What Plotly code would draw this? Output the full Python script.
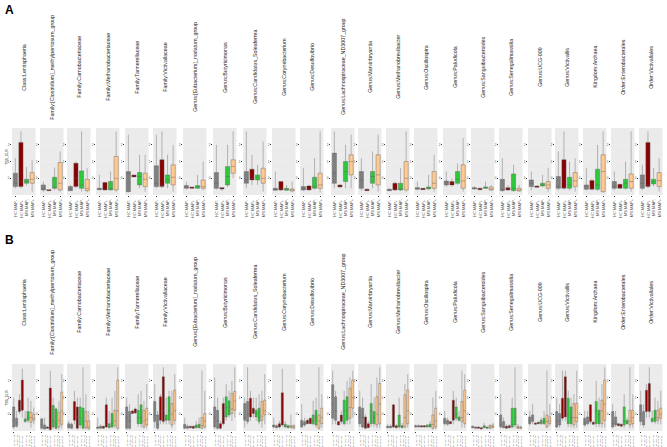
import plotly.graph_objects as go

taxa = ["Class:Lentisphaeria", "Family:[Clostridium]_methylpentosum_group", "Family:Carnobacteriaceae",
        "Family:Methanobacteriaceae", "Family:Tannerellaceae", "Family:Victivallaceae",
        "Genus:[Eubacterium]_nodatum_group", "Genus:Butyricimonas", "Genus:Candidatus_Soleaferrea",
        "Genus:Corynebacterium", "Genus:Desulfovibrio", "Genus:Lachnospiraceae_ND3007_group",
        "Genus:Marvinbryantia", "Genus:Methanobrevibacter", "Genus:Oscillospira", "Genus:Paludicola",
        "Genus:Sanguibacteroides", "Genus:Senegalimassilia", "Genus:UCG-009", "Genus:Victivallis",
        "Kingdom:Archaea", "Order:Enterobacterales", "Order:Victivallales"]

groups_A = ["HC MAP-", "HC MAP+", "MS MAP-", "MS MAP+"]
colors_A = ["#7F7F7F", "#8B0000", "#2DC83A", "#FFC98F"]
groups_B = ["HC MAP- T0", "HC MAP- T1", "HC MAP+ T0", "HC MAP+ T1",
            "MS MAP- T0", "MS MAP- T1", "MS MAP+ T0", "MS MAP+ T1"]
colors_B = ["#7F7F7F", "#7F7F7F", "#8B0000", "#8B0000", "#2DC83A", "#2DC83A", "#FFC98F", "#FFC98F"]

# ---- Panel A box statistics (one list of 4 per taxon) ----
A_q1 = [[0.125,0.125,0.175,0.175],[0.075,0.065,0.1,0.075],[0.065,0.125,0.1,0.065],[0.08,0.075,0.075,0.075],
        [0.05,0.27,0.15,0.125],[0.125,0.125,0.175,0.15],[0.1,0.1,0.1,0.1],[0.1,0.09,0.15,0.325],
        [0.175,0.225,0.225,0.175],[0.07,0.075,0.07,0.06],[0.075,0.075,0.1,0.1],[0.175,0.12,0.2,0.3],
        [0.1,0.065,0.175,0.15],[0.065,0.075,0.075,0.075],[0.085,0.08,0.09,0.1],[0.15,0.15,0.175,0.1],
        [0.09,0.08,0.1,0.075],[0.065,0.075,0.065,0.06],[0.125,0.115,0.135,0.1],[0.1,0.1,0.1,0.125],
        [0.085,0.085,0.085,0.05],[0.1,0.1,0.1,0.1],[0.1,0.125,0.165,0.125]]
A_med = [[0.175,0.2,0.2,0.235],[0.1,0.07,0.11,0.175],[0.09,0.25,0.15,0.1],[0.09,0.08,0.1,0.25],
         [0.32,0.29,0.275,0.235],[0.175,0.14,0.225,0.265],[0.12,0.11,0.12,0.125],[0.175,0.1,0.275,0.425],
         [0.225,0.25,0.265,0.25],[0.085,0.1,0.085,0.075],[0.1,0.09,0.125,0.15],[0.325,0.135,0.35,0.5],
         [0.225,0.075,0.275,0.3],[0.075,0.08,0.08,0.25],[0.1,0.09,0.1,0.175],[0.185,0.175,0.235,0.21],
         [0.1,0.09,0.11,0.09],[0.085,0.09,0.1,0.075],[0.175,0.125,0.15,0.15],[0.125,0.11,0.15,0.21],
         [0.125,0.1,0.15,0.35],[0.125,0.11,0.175,0.2],[0.175,0.15,0.2,0.215]]
A_q3 = [[0.325,0.785,0.235,0.335],[0.15,0.08,0.265,0.485],[0.125,0.475,0.36,0.235],[0.1,0.185,0.2,0.575],
        [0.35,0.3,0.335,0.325],[0.435,0.525,0.3,0.45],[0.14,0.12,0.14,0.225],[0.335,0.11,0.425,0.525],
        [0.35,0.385,0.3,0.4],[0.1,0.2,0.1,0.09],[0.125,0.135,0.265,0.325],[0.625,0.15,0.5,0.6],
        [0.35,0.085,0.35,0.6],[0.085,0.175,0.175,0.5],[0.11,0.1,0.12,0.35],[0.21,0.2,0.35,0.45],
        [0.11,0.1,0.12,0.12],[0.235,0.11,0.315,0.1],[0.225,0.135,0.175,0.2],[0.275,0.525,0.265,0.335],
        [0.15,0.215,0.385,0.6],[0.2,0.16,0.235,0.315],[0.3,0.785,0.235,0.335]]
A_hi = [[0.55,0.95,0.42,0.52],[0.2,0.08,0.41,0.65],[0.15,0.5,0.95,0.4],[0.3,0.2,0.35,0.95],
        [0.9,0.3,0.6,0.6],[0.9,0.95,0.6,0.75],[0.2,0.12,0.3,0.5],[0.75,0.12,0.75,0.95],
        [0.95,0.6,0.45,0.8],[0.35,0.2,0.15,0.2],[0.4,0.15,0.55,0.95],[0.95,0.16,0.75,0.9],
        [0.55,0.1,0.65,0.9],[0.1,0.2,0.4,0.95],[0.2,0.1,0.3,0.6],[0.35,0.25,0.47,0.85],
        [0.13,0.11,0.2,0.15],[0.55,0.15,0.45,0.15],[0.35,0.14,0.3,0.4],[0.65,0.95,0.5,0.55],
        [0.4,0.25,0.75,0.95],[0.35,0.16,0.5,0.95],[0.45,0.95,0.4,0.55]]
A_lo = [[0.1,0.1,0.14,0.05],[0.05,0.06,0.07,0.05],[0.06,0.1,0.05,0.04],[0.07,0.07,0.07,0.05],
        [0.04,0.27,0.1,0.05],[0.1,0.1,0.1,0.05],[0.08,0.09,0.09,0.07],[0.08,0.06,0.12,0.25],
        [0.1,0.15,0.15,0.05],[0.06,0.06,0.06,0.04],[0.06,0.07,0.08,0.04],[0.1,0.11,0.1,0.1],
        [0.06,0.06,0.1,0.05],[0.06,0.06,0.06,0.05],[0.07,0.08,0.08,0.05],[0.12,0.12,0.15,0.05],
        [0.08,0.07,0.09,0.06],[0.05,0.06,0.05,0.05],[0.07,0.11,0.12,0.05],[0.07,0.08,0.07,0.05],
        [0.07,0.07,0.06,0.03],[0.07,0.09,0.08,0.05],[0.07,0.1,0.13,0.05]]

# ---- Panel B box statistics (one list of 8 per taxon) ----
B_q1 = [[0.06,0.07,0.29,0.31,0.14,0.16,0.13,0.16],[0.04,0.03,0.04,0.02,0.06,0.04,0.06,0.1],
        [0.05,0.04,0.16,0.04,0.09,0.04,0.05,0.03],[0.04,0.04,0.04,0.06,0.05,0.06,0.08,0.04],
        [0.04,0.04,0.26,0.27,0.11,0.11,0.06,0.09],[0.14,0.04,0.16,0.14,0.16,0.16,0.09,0.16],
        [0.04,0.04,0.05,0.04,0.05,0.05,0.04,0.06],[0.06,0.04,0.04,0.11,0.21,0.24,0.26,0.31],
        [0.16,0.14,0.21,0.26,0.21,0.14,0.16,0.24],[0.06,0.05,0.06,0.09,0.06,0.05,0.05,0.04],
        [0.06,0.09,0.11,0.11,0.11,0.09,0.04,0.11],[0.19,0.16,0.09,0.14,0.11,0.16,0.19,0.34],
        [0.11,0.06,0.04,0.05,0.11,0.11,0.09,0.11],[0.05,0.05,0.06,0.05,0.06,0.05,0.06,0.11],
        [0.06,0.06,0.06,0.06,0.06,0.06,0.04,0.06],[0.11,0.1,0.11,0.16,0.19,0.16,0.14,0.11],
        [0.05,0.04,0.04,0.03,0.05,0.04,0.04,0.05],[0.06,0.05,0.04,0.05,0.06,0.09,0.04,0.04],
        [0.11,0.14,0.1,0.11,0.11,0.11,0.06,0.11],[0.06,0.09,0.19,0.21,0.11,0.11,0.09,0.14],
        [0.09,0.11,0.14,0.1,0.11,0.11,0.11,0.16],[0.06,0.09,0.08,0.07,0.09,0.11,0.09,0.11],
        [0.14,0.09,0.29,0.29,0.14,0.14,0.16,0.19]]
B_med = [[0.16,0.12,0.35,0.5,0.16,0.2,0.2,0.19],[0.1,0.05,0.05,0.1,0.15,0.12,0.16,0.3],
         [0.07,0.06,0.3,0.2,0.2,0.15,0.15,0.06],[0.05,0.05,0.05,0.1,0.06,0.12,0.15,0.3],
         [0.2,0.15,0.28,0.29,0.2,0.2,0.15,0.17],[0.24,0.1,0.3,0.3,0.18,0.3,0.25,0.3],
         [0.06,0.05,0.06,0.05,0.06,0.07,0.08,0.15],[0.2,0.15,0.05,0.2,0.35,0.35,0.33,0.45],
         [0.2,0.25,0.3,0.3,0.26,0.2,0.22,0.3],[0.07,0.06,0.08,0.1,0.07,0.07,0.06,0.06],
         [0.1,0.1,0.12,0.13,0.15,0.2,0.15,0.2],[0.4,0.3,0.1,0.17,0.3,0.3,0.35,0.5],
         [0.22,0.2,0.06,0.06,0.3,0.2,0.25,0.4],[0.06,0.06,0.1,0.06,0.08,0.06,0.2,0.3],
         [0.07,0.07,0.07,0.07,0.07,0.08,0.1,0.15],[0.14,0.13,0.12,0.3,0.25,0.18,0.2,0.3],
         [0.06,0.05,0.05,0.04,0.06,0.05,0.06,0.06],[0.1,0.06,0.05,0.06,0.1,0.2,0.05,0.05],
         [0.15,0.18,0.11,0.12,0.13,0.14,0.14,0.15],[0.15,0.15,0.3,0.4,0.25,0.2,0.2,0.2],
         [0.12,0.14,0.2,0.11,0.3,0.25,0.3,0.4],[0.12,0.12,0.09,0.08,0.15,0.13,0.15,0.2],
         [0.25,0.15,0.35,0.5,0.16,0.2,0.2,0.25]]
B_q3 = [[0.36,0.19,0.46,0.76,0.18,0.29,0.28,0.25],[0.18,0.09,0.06,0.64,0.38,0.33,0.28,0.58],
        [0.11,0.1,0.44,0.36,0.36,0.34,0.29,0.15],[0.06,0.07,0.07,0.39,0.11,0.26,0.31,0.76],
        [0.36,0.29,0.3,0.33,0.31,0.39,0.31,0.34],[0.44,0.24,0.51,0.81,0.24,0.51,0.41,0.61],
        [0.1,0.07,0.07,0.07,0.09,0.1,0.2,0.26],[0.36,0.31,0.11,0.41,0.51,0.45,0.56,0.59],
        [0.41,0.44,0.49,0.34,0.31,0.34,0.44,0.46],[0.09,0.08,0.11,0.57,0.1,0.08,0.08,0.08],
        [0.16,0.14,0.16,0.19,0.24,0.31,0.24,0.34],[0.69,0.51,0.14,0.24,0.46,0.51,0.64,0.76],
        [0.36,0.34,0.21,0.11,0.41,0.29,0.51,0.71],[0.07,0.07,0.39,0.08,0.24,0.08,0.54,0.61],
        [0.08,0.08,0.08,0.08,0.09,0.1,0.24,0.34],[0.19,0.16,0.14,0.46,0.36,0.21,0.44,0.61],
        [0.07,0.06,0.06,0.05,0.08,0.06,0.08,0.09],[0.24,0.14,0.07,0.08,0.34,0.34,0.07,0.06],
        [0.21,0.24,0.12,0.13,0.16,0.19,0.24,0.21],[0.29,0.26,0.49,0.81,0.49,0.36,0.41,0.41],
        [0.19,0.21,0.39,0.13,0.44,0.31,0.46,0.76],[0.29,0.21,0.11,0.1,0.36,0.16,0.31,0.31],
        [0.39,0.29,0.61,0.71,0.19,0.31,0.31,0.34]]
B_hi = [[0.5,0.3,0.55,0.93,0.3,0.5,0.45,0.35],[0.2,0.2,0.07,0.9,0.5,0.35,0.45,0.85],
        [0.15,0.13,0.6,0.5,0.5,0.95,0.55,0.3],[0.2,0.1,0.08,0.5,0.3,0.5,0.6,0.95],
        [0.5,0.4,0.32,0.35,0.55,0.6,0.45,0.7],[0.7,0.3,0.55,0.95,0.5,0.6,0.6,0.85],
        [0.2,0.1,0.08,0.08,0.15,0.2,0.9,0.6],[0.8,0.5,0.15,0.5,0.7,0.6,0.75,0.95],
        [0.5,0.95,0.6,0.5,0.5,0.55,0.6,0.85],[0.2,0.1,0.15,0.93,0.15,0.1,0.25,0.1],
        [0.4,0.2,0.18,0.2,0.45,0.5,0.95,0.55],[0.9,0.6,0.15,0.3,0.6,0.75,0.8,0.9],
        [0.6,0.5,0.25,0.15,0.7,0.5,0.8,0.95],[0.1,0.1,0.4,0.1,0.5,0.12,0.7,0.85],
        [0.1,0.1,0.09,0.09,0.1,0.15,0.5,0.6],[0.3,0.2,0.15,0.6,0.5,0.3,0.9,0.85],
        [0.08,0.07,0.07,0.06,0.12,0.07,0.1,0.12],[0.55,0.2,0.1,0.1,0.5,0.95,0.1,0.08],
        [0.3,0.4,0.13,0.14,0.2,0.3,0.9,0.4],[0.5,0.4,0.9,0.9,0.6,0.5,0.55,0.9],
        [0.3,0.3,0.4,0.15,0.75,0.5,0.7,0.95],[0.4,0.3,0.12,0.11,0.55,0.2,0.95,0.55],
        [0.6,0.4,0.7,0.95,0.3,0.5,0.45,0.6]]
B_lo = [[0.03,0.05,0.25,0.2,0.12,0.12,0.05,0.1],[0.02,0.02,0.03,0.01,0.03,0.02,0.02,0.04],
        [0.03,0.03,0.1,0.02,0.04,0.02,0.02,0.02],[0.03,0.03,0.03,0.04,0.04,0.04,0.04,0.02],
        [0.02,0.02,0.25,0.25,0.06,0.05,0.03,0.04],[0.05,0.02,0.1,0.1,0.1,0.1,0.04,0.1],
        [0.03,0.03,0.04,0.03,0.04,0.04,0.03,0.04],[0.03,0.02,0.02,0.08,0.15,0.2,0.15,0.2],
        [0.05,0.1,0.15,0.2,0.15,0.1,0.05,0.1],[0.04,0.04,0.04,0.06,0.05,0.04,0.04,0.03],
        [0.04,0.06,0.1,0.1,0.08,0.05,0.02,0.05],[0.1,0.1,0.08,0.1,0.08,0.1,0.1,0.2],
        [0.06,0.04,0.03,0.04,0.06,0.06,0.04,0.05],[0.04,0.04,0.04,0.04,0.04,0.04,0.04,0.05],
        [0.05,0.05,0.05,0.05,0.05,0.05,0.02,0.03],[0.08,0.08,0.1,0.1,0.15,0.14,0.05,0.05],
        [0.04,0.03,0.03,0.02,0.04,0.03,0.03,0.04],[0.04,0.04,0.03,0.04,0.04,0.05,0.03,0.03],
        [0.08,0.1,0.09,0.1,0.09,0.09,0.04,0.08],[0.04,0.05,0.15,0.15,0.06,0.05,0.04,0.05],
        [0.06,0.08,0.1,0.09,0.06,0.06,0.05,0.05],[0.04,0.06,0.07,0.06,0.05,0.1,0.04,0.05],
        [0.08,0.05,0.2,0.2,0.12,0.1,0.1,0.1]]

# ---------------- layout geometry (pixels) ----------------
W, H = 667, 447
panel_left = [12, 40, 67, 96, 125, 153, 183, 213, 243, 272, 300, 331, 358, 386, 414, 443,
              471, 499, 528, 555, 583, 611, 639]
panel_w = 23.5
rowA = (128, 195)   # top, bottom in px
rowB = (364, 431)
FONT = "Liberation Sans, Arial, sans-serif"

fig = go.Figure()
layout = dict(width=W, height=H, margin=dict(l=0, r=0, t=0, b=0, autoexpand=False),
              paper_bgcolor="white", plot_bgcolor="#EBEBEB", showlegend=False,
              font=dict(family=FONT, color="#333333"), boxmode="overlay")
annotations = []


def add_row(row_idx, px_rows, groups, colors, q1s, meds, q3s, his, los, tickfont, boxw):
    top, bot = px_rows
    for i, name in enumerate(taxa):
        k = row_idx * len(taxa) + i + 1
        xa = "x" if k == 1 else f"x{k}"
        ya = "y" if k == 1 else f"y{k}"
        x0 = panel_left[i] / W
        x1 = (panel_left[i] + panel_w) / W
        y0 = 1 - bot / H
        y1 = 1 - top / H
        for g, (grp, col) in enumerate(zip(groups, colors)):
            fig.add_trace(go.Box(
                x=[grp], q1=[q1s[i][g]], median=[meds[i][g]], q3=[q3s[i][g]],
                lowerfence=[los[i][g]], upperfence=[his[i][g]],
                fillcolor=col, line=dict(color="#5A5A5A", width=0.4),
                width=boxw, whiskerwidth=0, boxpoints=False,
                xaxis=xa, yaxis=ya, showlegend=False, hoverinfo="skip"))
            # category tick label drawn as a rotated annotation under the panel
            annotations.append(dict(text=grp, xref=xa, x=grp, yref="paper", y=1 - (bot + 2.5) / H,
                                    textangle=-90, showarrow=False, xanchor="center", yanchor="top",
                                    borderpad=0,
                                    font=dict(size=tickfont, color="#4D4D4D", family=FONT)))
        xkey = "xaxis" if k == 1 else f"xaxis{k}"
        ykey = "yaxis" if k == 1 else f"yaxis{k}"
        layout[xkey] = dict(domain=[x0, x1], anchor=ya, type="category", automargin=False,
                            categoryorder="array", categoryarray=groups,
                            range=[-0.6, len(groups) - 0.4], showticklabels=False,
                            showgrid=False, zeroline=False, ticks="outside",
                            ticklen=1, tickcolor="#333333", showline=False)
        layout[ykey] = dict(domain=[y0, y1], anchor=xa, range=[0, 1.0], automargin=False,
                            tickvals=[0.25, 0.5, 0.75], ticktext=["0", "1", "2"],
                            tickfont=dict(size=3, color="#4D4D4D"),
                            showgrid=True, gridcolor="#F3F3F3", gridwidth=0.4,
                            zeroline=False, ticks="outside", ticklen=1,
                            tickcolor="#333333", showline=False)
        cy = 67 if row_idx == 0 else 302
        annotations.append(dict(text=name, x=(x0 + x1) / 2, y=1 - cy / H, xref="paper", yref="paper",
                                textangle=-90, showarrow=False, xanchor="center", yanchor="middle",
                                font=dict(size=5.3, color="#1A1A1A", family=FONT)))


add_row(0, rowA, groups_A, colors_A, A_q1, A_med, A_q3, A_hi, A_lo, 4.0, 0.75)
add_row(1, rowB, groups_B, colors_B, B_q1, B_med, B_q3, B_hi, B_lo, 2.0, 0.75)

annotations += [
    dict(text="<b>A</b>", x=3 / W, y=1 - 1 / H, xref="paper", yref="paper", showarrow=False,
         xanchor="left", yanchor="top", font=dict(size=12, color="black", family=FONT)),
    dict(text="<b>B</b>", x=3 / W, y=1 - 231 / H, xref="paper", yref="paper", showarrow=False,
         xanchor="left", yanchor="top", font=dict(size=12, color="black", family=FONT)),
    dict(text="TSS_CLR", x=7 / W, y=1 - 157 / H, xref="paper", yref="paper", showarrow=False,
         textangle=-90, xanchor="center", yanchor="middle", font=dict(size=3.5, color="#1A1A1A", family=FONT)),
    dict(text="TSS_CLR", x=7 / W, y=1 - 398 / H, xref="paper", yref="paper", showarrow=False,
         textangle=-90, xanchor="center", yanchor="middle", font=dict(size=3.5, color="#1A1A1A", family=FONT)),
]
layout["annotations"] = annotations
fig.update_layout(**layout)
fig.write_html("out.html", config={"displayModeBar": False, "staticPlot": True},
               post_script="document.body.style.margin='0px';document.body.style.overflow='hidden';")
